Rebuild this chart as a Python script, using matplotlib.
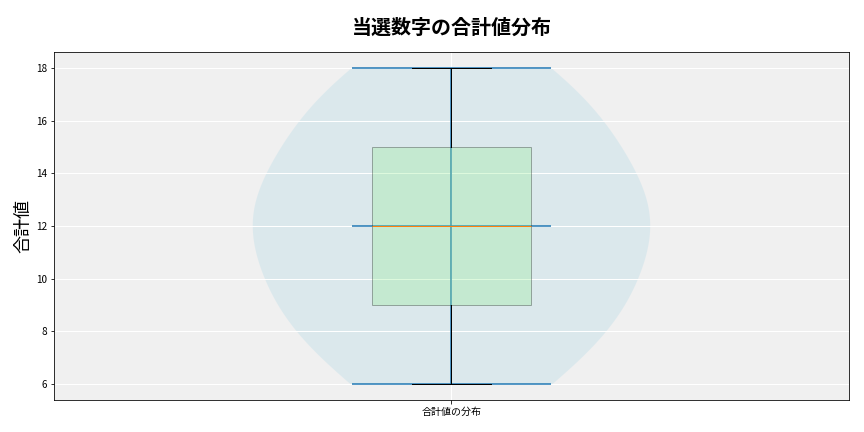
import matplotlib
matplotlib.use('Agg')
import matplotlib.pyplot as plt

plt.rcParams['font.family'] = ['Noto Sans CJK JP', 'DejaVu Sans']

# 合計値 (sum of the winning numbers per draw)
sums = [6, 6, 8, 9, 9, 9, 11, 12, 12, 12, 13, 14, 15, 15, 17, 17, 18]
title = '当選数字の合計値分布'
ylabel = '合計値'
xlabels = ['合計値の分布']

fig = plt.figure(figsize=(12, 6), dpi=72)
ax = fig.add_subplot(111)
ax.set_facecolor('#f0f0f0')
ax.grid(True, color='white', linewidth=1)

vp = ax.violinplot([sums], positions=[1], widths=0.5, showmedians=True)
for body in vp['bodies']:
    body.set_facecolor('lightblue')
    body.set_edgecolor('none')
    body.set_alpha(0.3)

bp = ax.boxplot([sums], positions=[1], widths=0.2, patch_artist=True)
for box in bp['boxes']:
    box.set_facecolor('lightgreen')
    box.set_alpha(0.3)

ax.set_xlim(0.5, 1.5)
ax.set_xticks([1])
ax.set_xticklabels(xlabels)
ax.set_ylabel(ylabel, fontsize=18)
ax.set_title(title, fontsize=20, fontweight='bold', pad=18)

plt.subplots_adjust(left=0.0625, right=0.9826, top=0.8796, bottom=0.0741)
plt.savefig('out.png', dpi=72)
